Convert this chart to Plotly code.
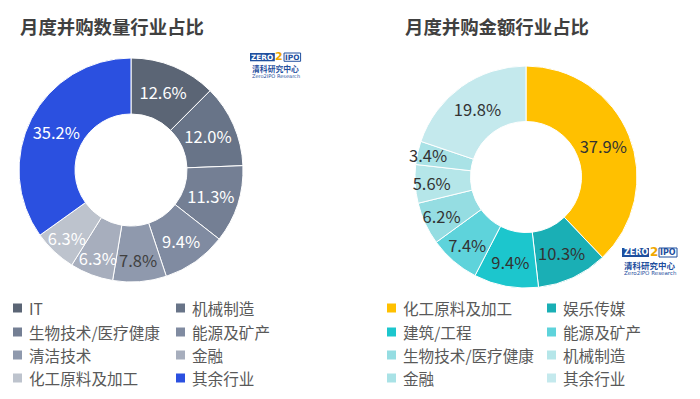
import plotly.graph_objects as go

# page has an 8px body margin; figure sized to fit the 700x399 window
OFF = 8
W, H = 692, 391

# ---- data ----
left_title = "月度并购数量行业占比"
left_labels = ["IT", "机械制造", "生物技术/医疗健康", "能源及矿产", "清洁技术", "金融", "化工原料及加工", "其余行业"]
left_values = [12.6, 12.0, 11.3, 9.4, 7.8, 6.3, 6.3, 35.2]
left_colors = ["#5b6575", "#687488", "#747f94", "#808ba1", "#8f99ad", "#a7aebd", "#bdc3cd", "#2b50e0"]
left_text_colors = ["#ffffff", "#ffffff", "#ffffff", "#ffffff", "#404040", "#ffffff", "#ffffff", "#ffffff"]

right_title = "月度并购金额行业占比"
right_labels = ["化工原料及加工", "娱乐传媒", "建筑/工程", "能源及矿产", "生物技术/医疗健康", "机械制造", "金融", "其余行业"]
right_values = [37.9, 10.3, 9.4, 7.4, 6.2, 5.6, 3.4, 19.8]
right_colors = ["#ffc000", "#1aafb5", "#1cc6cd", "#5ed3db", "#95dde2", "#b5e6e9", "#a9e2e6", "#c4e9ed"]
right_text_colors = ["#333333"] * 8

FONT = "Noto Sans CJK SC, Microsoft YaHei, sans-serif"


def px_x(x):
    return (x - OFF) / W


def px_y(y):
    return 1 - (y - OFF) / H


fig = go.Figure()

def add_pie(labels, values, colors, tcolors, cx, cy, r):
    fig.add_trace(go.Pie(
        labels=labels, values=values, sort=False, direction="clockwise", rotation=0,
        hole=0.5,
        marker=dict(colors=colors, line=dict(color="#ffffff", width=1)),
        texttemplate="%{value:.1f}%", textposition="inside", insidetextorientation="horizontal",
        textfont=dict(family=FONT, size=16.5, color=tcolors),
        showlegend=False, hoverinfo="label+percent",
        domain=dict(x=[px_x(cx - r), px_x(cx + r)], y=[px_y(cy + r), px_y(cy - r)]),
    ))

add_pie(left_labels, left_values, left_colors, left_text_colors, 131, 170, 112)
add_pie(right_labels, right_values, right_colors, right_text_colors, 526, 177, 111)

annotations = []
shapes = []

# titles
for title, tx in [(left_title, 18), (right_title, 403)]:
    annotations.append(dict(text="<b>" + title + "</b>", x=px_x(tx), y=px_y(26), xref="paper", yref="paper",
                            xanchor="left", yanchor="middle", showarrow=False,
                            font=dict(family=FONT, size=18.4, color="#404040")))

# legends (two columns, 4 rows)
row_y = [308, 332, 355, 378]

def add_legend(labels, colors, col_x):
    for i, (lab, col) in enumerate(zip(labels, colors)):
        r, c = i // 2, i % 2
        sx = col_x[c]
        yy = row_y[r]
        shapes.append(dict(type="rect", xref="paper", yref="paper",
                           x0=px_x(sx), x1=px_x(sx + 9), y0=px_y(yy + 4.5), y1=px_y(yy - 4.5),
                           fillcolor=col, line=dict(width=0)))
        annotations.append(dict(text=lab, x=px_x(sx + 14), y=px_y(yy), xref="paper", yref="paper",
                                xanchor="left", yanchor="middle", showarrow=False,
                                font=dict(family=FONT, size=15.6, color="#595959")))

add_legend(left_labels, left_colors, [13, 176])
add_legend(right_labels, right_colors, [387, 547])

# logos
def add_logo(x, y, s=1.0):
    shapes.append(dict(type="rect", xref="paper", yref="paper",
                       x0=px_x(x), x1=px_x(x + 27 * s), y0=px_y(y + 9 * s), y1=px_y(y),
                       fillcolor="#1f4f9e", line=dict(width=0)))
    annotations.append(dict(text="<b>ZERO</b>", x=px_x(x + 13.5 * s), y=px_y(y + 4.5 * s), xref="paper", yref="paper",
                            xanchor="center", yanchor="middle", showarrow=False,
                            font=dict(family="DejaVu Sans", size=8 * s, color="#ffffff")))
    annotations.append(dict(text="<b>2</b>", x=px_x(x + 32 * s), y=px_y(y + 4 * s), xref="paper", yref="paper",
                            xanchor="center", yanchor="middle", showarrow=False,
                            font=dict(family="DejaVu Sans", size=12 * s, color="#f0a800")))
    shapes.append(dict(type="rect", xref="paper", yref="paper",
                       x0=px_x(x + 37 * s), x1=px_x(x + 55 * s), y0=px_y(y + 9 * s), y1=px_y(y),
                       fillcolor="#ffffff", line=dict(width=1, color="#1f4f9e")))
    annotations.append(dict(text="<b>IPO</b>", x=px_x(x + 46 * s), y=px_y(y + 4.5 * s), xref="paper", yref="paper",
                            xanchor="center", yanchor="middle", showarrow=False,
                            font=dict(family="DejaVu Sans", size=8 * s, color="#1f4f9e")))
    annotations.append(dict(text="<b>清科研究中心</b>", x=px_x(x), y=px_y(y + 17 * s), xref="paper", yref="paper",
                            xanchor="left", yanchor="middle", showarrow=False,
                            font=dict(family=FONT, size=8.5 * s, color="#1f4f9e")))
    annotations.append(dict(text="Zero2IPO Research", x=px_x(x), y=px_y(y + 25 * s), xref="paper", yref="paper",
                            xanchor="left", yanchor="middle", showarrow=False,
                            font=dict(family="DejaVu Sans", size=5.5 * s, color="#1f4f9e")))

add_logo(250, 53, 0.92)
add_logo(622, 248, 1.0)

fig.update_layout(
    width=W, height=H,
    margin=dict(l=0, r=0, t=0, b=0),
    paper_bgcolor="#ffffff", plot_bgcolor="#ffffff",
    annotations=annotations, shapes=shapes,
    showlegend=False,
    uniformtext=dict(minsize=16.5, mode="show"),
    font=dict(family=FONT),
)

fig.write_html("out.html")
